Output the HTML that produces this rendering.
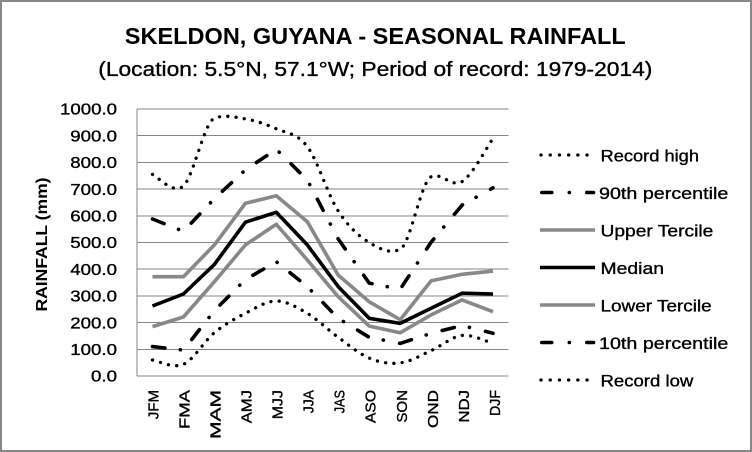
<!DOCTYPE html>
<html>
<head>
<meta charset="utf-8">
<style>
html,body{margin:0;padding:0;background:#fff;}
svg{display:block;}
text{font-family:"Liberation Sans",Arial,sans-serif;fill:#000;}
.r{stroke:#000;stroke-width:0.35px;}
</style>
</head>
<body>
<svg width="752" height="452" viewBox="0 0 752 452" xmlns="http://www.w3.org/2000/svg">
<rect x="0" y="0" width="752" height="452" fill="#fff"/>
<rect x="1" y="1" width="750" height="450" fill="none" stroke="#868686" stroke-width="2"/>

<!-- Titles -->
<text x="375.3" y="44" text-anchor="middle" font-size="23" font-weight="bold" textLength="501" lengthAdjust="spacingAndGlyphs">SKELDON, GUYANA - SEASONAL RAINFALL</text>
<text class="r" x="375.3" y="76" text-anchor="middle" font-size="20" textLength="554" lengthAdjust="spacingAndGlyphs">(Location: 5.5°N, 57.1°W; Period of record: 1979-2014)</text>

<!-- Gridlines -->
<g stroke="#868686" stroke-width="1" shape-rendering="crispEdges">
<line x1="137" y1="109" x2="508.5" y2="109"/>
<line x1="137" y1="135.7" x2="508.5" y2="135.7"/>
<line x1="137" y1="162.4" x2="508.5" y2="162.4"/>
<line x1="137" y1="189.1" x2="508.5" y2="189.1"/>
<line x1="137" y1="215.8" x2="508.5" y2="215.8"/>
<line x1="137" y1="242.5" x2="508.5" y2="242.5"/>
<line x1="137" y1="269.2" x2="508.5" y2="269.2"/>
<line x1="137" y1="295.9" x2="508.5" y2="295.9"/>
<line x1="137" y1="322.6" x2="508.5" y2="322.6"/>
<line x1="137" y1="349.3" x2="508.5" y2="349.3"/>
<line x1="137" y1="376" x2="508.5" y2="376"/>
<line x1="137" y1="109" x2="137" y2="376"/>
</g>

<!-- Y tick labels -->
<g font-size="16" text-anchor="end" class="r">
<text class="r" x="117" y="114.7" textLength="57" lengthAdjust="spacingAndGlyphs">1000.0</text>
<text class="r" x="117" y="141.4" textLength="46.7" lengthAdjust="spacingAndGlyphs">900.0</text>
<text class="r" x="117" y="168.1" textLength="46.7" lengthAdjust="spacingAndGlyphs">800.0</text>
<text class="r" x="117" y="194.8" textLength="46.7" lengthAdjust="spacingAndGlyphs">700.0</text>
<text class="r" x="117" y="221.5" textLength="46.7" lengthAdjust="spacingAndGlyphs">600.0</text>
<text class="r" x="117" y="248.2" textLength="46.7" lengthAdjust="spacingAndGlyphs">500.0</text>
<text class="r" x="117" y="274.9" textLength="46.7" lengthAdjust="spacingAndGlyphs">400.0</text>
<text class="r" x="117" y="301.6" textLength="46.7" lengthAdjust="spacingAndGlyphs">300.0</text>
<text class="r" x="117" y="328.3" textLength="46.7" lengthAdjust="spacingAndGlyphs">200.0</text>
<text class="r" x="117" y="355.0" textLength="46.7" lengthAdjust="spacingAndGlyphs">100.0</text>
<text class="r" x="117" y="381.7" textLength="26" lengthAdjust="spacingAndGlyphs">0.0</text>
</g>

<!-- Y axis title -->
<text transform="translate(47,244.5) rotate(-90)" text-anchor="middle" font-size="16" font-weight="bold" textLength="134" lengthAdjust="spacingAndGlyphs">RAINFALL (mm)</text>

<!-- X labels -->
<g font-size="15" text-anchor="end">
<text class="r" transform="translate(158.3,390) rotate(-90)" textLength="29.3" lengthAdjust="spacingAndGlyphs">JFM</text>
<text class="r" transform="translate(189.4,390) rotate(-90)" textLength="39" lengthAdjust="spacingAndGlyphs">FMA</text>
<text class="r" transform="translate(220.4,390) rotate(-90)" textLength="49" lengthAdjust="spacingAndGlyphs">MAM</text>
<text class="r" transform="translate(251.5,390) rotate(-90)" textLength="33.3" lengthAdjust="spacingAndGlyphs">AMJ</text>
<text class="r" transform="translate(282.5,390) rotate(-90)" textLength="29.3" lengthAdjust="spacingAndGlyphs">MJJ</text>
<text class="r" transform="translate(313.6,390) rotate(-90)" textLength="23.3" lengthAdjust="spacingAndGlyphs">JJA</text>
<text class="r" transform="translate(344.7,390) rotate(-90)" textLength="23.3" lengthAdjust="spacingAndGlyphs">JAS</text>
<text class="r" transform="translate(375.7,390) rotate(-90)" textLength="33" lengthAdjust="spacingAndGlyphs">ASO</text>
<text class="r" transform="translate(406.8,390) rotate(-90)" textLength="32.7" lengthAdjust="spacingAndGlyphs">SON</text>
<text class="r" transform="translate(437.8,390) rotate(-90)" textLength="38" lengthAdjust="spacingAndGlyphs">OND</text>
<text class="r" transform="translate(468.9,390) rotate(-90)" textLength="32.7" lengthAdjust="spacingAndGlyphs">NDJ</text>
<text class="r" transform="translate(499.9,390) rotate(-90)" textLength="26" lengthAdjust="spacingAndGlyphs">DJF</text>
</g>

<!-- Series -->
<g fill="none" stroke-linejoin="round">
<!-- Record high (smoothed, dotted) -->
<path stroke="#000" stroke-width="3.3" stroke-linecap="round" stroke-dasharray="0.1 8.2"
 d="M152.5,174.4 C157.7,176.3 173.1,195.3 183.4,185.9 C193.7,176.6 204.1,122.3 214.4,118.3 C224.7,114.3 235.1,117.2 245.4,118.9 C255.7,120.7 266.0,124.2 276.3,128.8 C286.6,133.4 297.0,132.9 307.3,146.6 C317.6,160.3 327.9,195.0 338.2,211.0 C348.5,227.0 358.9,236.1 369.2,242.5 C379.5,248.9 389.9,254.2 400.2,249.2 C410.5,244.2 420.8,181.8 431.1,176.8 C441.4,171.8 451.8,188.0 462.1,181.6 C472.4,175.2 487.8,145.6 493.0,138.4"/>
<!-- 90th percentile -->
<polyline stroke="#000" stroke-width="3.6" stroke-linecap="round" stroke-dasharray="12.5 15.5 0.1 16.5"
 points="152.5,219.0 183.4,231.3 214.4,198.7 245.4,169.9 276.3,149.3 307.3,180.0 338.2,239.0 369.2,283.1 400.2,289.2 431.1,242.2 462.1,205.1 493.0,187.8"/>
<!-- Upper tercile -->
<polyline stroke="#888888" stroke-width="3.6"
 points="152.5,276.7 183.4,276.7 214.4,244.9 245.4,203.3 276.3,195.8 307.3,221.7 338.2,275.1 369.2,301.8 400.2,319.7 431.1,280.9 462.1,274.3 493.0,271.1"/>
<!-- Median -->
<polyline stroke="#000" stroke-width="3.6"
 points="152.5,306.0 183.4,294.0 214.4,264.4 245.4,222.2 276.3,212.3 307.3,244.9 338.2,286.6 369.2,318.3 400.2,323.4 431.1,308.2 462.1,293.2 493.0,294.0"/>
<!-- Lower tercile -->
<polyline stroke="#888888" stroke-width="3.6"
 points="152.5,326.6 183.4,317.0 214.4,281.7 245.4,244.9 276.3,224.3 307.3,259.9 338.2,296.7 369.2,326.1 400.2,332.7 431.1,314.9 462.1,299.9 493.0,311.7"/>
<!-- 10th percentile -->
<polyline stroke="#000" stroke-width="3.6" stroke-linecap="round" stroke-dasharray="12.5 15.5 0.1 16.5"
 points="152.5,346.6 183.4,350.1 214.4,310.6 245.4,279.6 276.3,261.7 307.3,286.6 338.2,318.3 369.2,337.3 400.2,343.4 431.1,333.3 462.1,325.5 493.0,333.3"/>
<!-- Record low (smoothed, dotted) -->
<path stroke="#000" stroke-width="3.3" stroke-linecap="round" stroke-dasharray="0.1 8.2"
 d="M152.5,360.0 C157.7,360.7 173.1,368.9 183.4,364.3 C193.7,359.8 204.1,341.2 214.4,332.7 C224.7,324.2 235.1,318.6 245.4,313.3 C255.7,308.0 266.0,301.0 276.3,301.0 C286.6,301.0 297.0,307.3 307.3,313.3 C317.6,319.4 327.9,329.8 338.2,337.3 C348.5,344.8 358.9,353.8 369.2,358.1 C379.5,362.4 389.9,364.2 400.2,362.9 C410.5,361.7 420.8,355.2 431.1,350.6 C441.4,346.0 451.8,336.6 462.1,335.4 C472.4,334.2 487.8,342.1 493.0,343.4"/>
</g>

<!-- Legend -->
<g fill="none">
<line x1="541" y1="155" x2="596" y2="155" stroke="#000" stroke-width="3.3" stroke-linecap="round" stroke-dasharray="0.1 9.1"/>
<g stroke="#000" stroke-width="3.6" stroke-linecap="round">
<line x1="541.8" y1="192.5" x2="551.8" y2="192.5"/>
<line x1="569.3" y1="192.5" x2="569.4" y2="192.5"/>
<line x1="586.8" y1="192.5" x2="593.5" y2="192.5"/>
</g>
<line x1="540" y1="230" x2="595" y2="230" stroke="#888888" stroke-width="3.6"/>
<line x1="540" y1="267.5" x2="595" y2="267.5" stroke="#000" stroke-width="3.6"/>
<line x1="540" y1="305" x2="595" y2="305" stroke="#888888" stroke-width="3.6"/>
<g stroke="#000" stroke-width="3.6" stroke-linecap="round">
<line x1="541.8" y1="342.5" x2="551.8" y2="342.5"/>
<line x1="569.3" y1="342.5" x2="569.4" y2="342.5"/>
<line x1="586.8" y1="342.5" x2="593.5" y2="342.5"/>
</g>
<line x1="541" y1="380" x2="596" y2="380" stroke="#000" stroke-width="3.3" stroke-linecap="round" stroke-dasharray="0.1 9.1"/>
</g>
<g font-size="17">
<text class="r" x="600.5" y="161.7" textLength="98.5" lengthAdjust="spacingAndGlyphs">Record high</text>
<text class="r" x="599" y="199" textLength="129.3" lengthAdjust="spacingAndGlyphs">90th percentile</text>
<text class="r" x="600.5" y="236.5" textLength="112.8" lengthAdjust="spacingAndGlyphs">Upper Tercile</text>
<text class="r" x="600.5" y="274" textLength="63.5" lengthAdjust="spacingAndGlyphs">Median</text>
<text class="r" x="600.5" y="311.5" textLength="111.2" lengthAdjust="spacingAndGlyphs">Lower Tercile</text>
<text class="r" x="599" y="349" textLength="129.3" lengthAdjust="spacingAndGlyphs">10th percentile</text>
<text class="r" x="600.5" y="386.5" textLength="92.8" lengthAdjust="spacingAndGlyphs">Record low</text>
</g>
</svg>
</body>
</html>
